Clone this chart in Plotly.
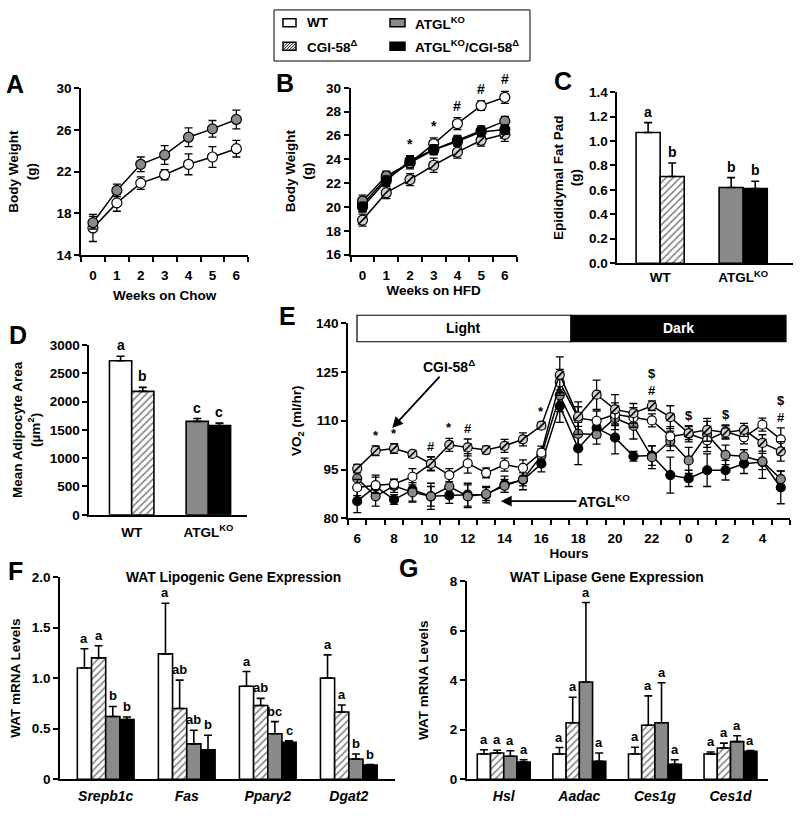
import plotly.graph_objects as go

W, H = 800, 816
FONT = "Liberation Sans, Arial, Helvetica, sans-serif"


def px(x):
    return x / W


def py(y):
    return 1 - y / H


# ---------------- data ----------------
genotypes = ["WT", "CGI-58Δ", "ATGLKO", "ATGLKO/CGI-58Δ"]

# Panel A (chow)
weeks = [0, 1, 2, 3, 4, 5, 6]
a_wt = [16.6, 19.0, 20.9, 21.7, 22.7, 23.4, 24.2]
a_wt_err = [1.3, 0.8, 0.6, 0.5, 1.0, 1.0, 0.8]
a_ko = [17.1, 20.2, 22.7, 23.6, 25.3, 26.1, 27.0]
a_ko_err = [0.6, 0.6, 0.7, 0.9, 0.9, 0.8, 0.9]

# Panel B (HFD)
b_wt = [20.2, 22.4, 23.7, 25.3, 27.0, 28.5, 29.2]
b_wt_err = [0.6, 0.5, 0.5, 0.5, 0.5, 0.4, 0.5]
b_cgi = [18.9, 21.2, 22.3, 23.5, 24.6, 25.6, 26.1]
b_cgi_err = [0.5, 0.5, 0.5, 0.6, 0.5, 0.5, 0.6]
b_ko = [20.5, 22.6, 23.7, 24.8, 25.6, 26.4, 27.2]
b_ko_err = [0.5, 0.4, 0.4, 0.4, 0.4, 0.4, 0.4]
b_dko = [20.0, 22.2, 23.9, 24.8, 25.5, 26.3, 26.5]
b_dko_err = [0.4, 0.4, 0.4, 0.4, 0.4, 0.4, 0.4]
b_sig = ["", "", "*", "*", "#", "#", "#"]

# Panel C (fat pad, g)
bar_groups = ["WT", "ATGL<sup>KO</sup>"]
c_vals = [1.07, 0.71, 0.62, 0.61]
c_err = [0.08, 0.11, 0.08, 0.06]
c_letters = ["a", "b", "b", "b"]

# Panel D (adipocyte area)
d_vals = [2720, 2180, 1650, 1575]
d_err = [80, 70, 50, 45]
d_letters = ["a", "b", "c", "c"]

# Panel E (VO2)
hours = list(range(6, 30))
e_cgi = [95.3, 100.8, 101.5, 99.8, 96.8, 102.6, 101.8, 101.0, 102.3, 104.3, 108.5, 124.1,
         111.3, 118.0, 113.5, 112.3, 114.6, 111.1, 106.2, 107.2, 106.4, 107.2, 103.2, 100.6]
e_cgi_err = [1.3, 1.5, 1.5, 0.8, 2.2, 2.0, 2.6, 1.2, 2.0, 2.0, 1.0, 5.5,
             3.0, 4.5, 4.5, 3.0, 1.5, 3.5, 2.0, 3.5, 2.0, 2.0, 2.5, 3.0]
e_wt = [89.5, 90.2, 90.6, 92.8, 96.8, 93.3, 96.9, 94.0, 96.5, 95.5, 100.2, 121.8,
        110.8, 110.0, 112.0, 111.0, 110.1, 105.2, 106.0, 104.0, 106.7, 104.9, 108.8, 104.3]
e_wt_err = [2.5, 2.5, 1.5, 2.5, 2.0, 2.0, 3.0, 1.5, 2.0, 2.5, 2.0, 4.0,
            5.0, 3.0, 3.5, 3.0, 2.0, 3.0, 2.5, 3.5, 2.0, 2.0, 2.0, 3.5]
e_ko = [92.3, 86.8, 90.0, 88.0, 86.8, 89.8, 86.8, 87.5, 90.0, 92.0, 99.3, 117.8,
        106.0, 105.8, 110.8, 108.4, 98.8, 103.8, 97.8, 105.8, 99.5, 99.1, 97.5, 92.1]
e_ko_err = [3.5, 3.0, 2.0, 3.0, 3.0, 3.5, 3.5, 2.0, 2.0, 2.0, 2.0, 5.0,
            3.5, 3.0, 3.5, 4.0, 3.5, 3.0, 4.0, 4.0, 3.0, 2.0, 2.5, 2.5]
e_dko = [85.3, 89.8, 85.8, 88.8, 86.8, 87.1, 87.3, 87.3, 90.5, 91.8, 96.8, 114.5,
         101.5, 107.8, 104.8, 99.1, 99.3, 93.3, 92.3, 94.8, 94.8, 96.8, 97.3, 89.5]
e_dko_err = [3.5, 3.5, 1.5, 3.5, 4.0, 2.5, 3.5, 2.5, 2.5, 3.0, 2.5, 5.0,
             5.0, 3.0, 5.0, 1.5, 3.0, 5.5, 2.5, 5.0, 3.0, 3.0, 5.0, 5.0]
e_sig_hours = [7, 8, 10, 11, 12, 16, 22, 24, 26, 29]
e_sig = ["*", "*", "#", "*", "#", "*", "$<br>#", "$", "$", "$<br>#"]

# Panel F (lipogenic genes)
f_genes = ["Srepb1c", "Fas", "Pparγ2", "Dgat2"]
f_vals = [
    [1.10, 1.24, 0.92, 1.00],
    [1.20, 0.70, 0.73, 0.665],
    [0.62, 0.35, 0.45, 0.20],
    [0.59, 0.29, 0.365, 0.14],
]
f_errs = [
    [0.19, 0.50, 0.145, 0.23],
    [0.12, 0.28, 0.07, 0.07],
    [0.10, 0.135, 0.12, 0.05],
    [0.025, 0.145, 0.015, 0.005],
]
f_letters = [
    ["a", "a", "a", "a"],
    ["a", "ab", "ab", "a"],
    ["b", "ab", "bc", "b"],
    ["b", "b", "c", "b"],
]

# Panel G (lipase genes)
g_genes = ["Hsl", "Aadac", "Ces1g", "Ces1d"]
g_vals = [
    [1.02, 1.02, 1.02, 1.02],
    [1.06, 2.28, 2.18, 1.26],
    [0.93, 3.93, 2.28, 1.52],
    [0.69, 0.73, 0.60, 1.13],
]
g_errs = [
    [0.17, 0.26, 0.27, 0.08],
    [0.11, 1.03, 1.19, 0.20],
    [0.22, 3.21, 1.62, 0.24],
    [0.10, 0.33, 0.19, 0.03],
]
g_letters = [["a"] * 4 for _ in range(4)]

# ---------------- styles ----------------
GRAY = "#8a8a8a"
FILLS = ["white", "white", GRAY, "black"]
PATTERNS = ["", "/", "", ""]
CIRCLE_FILLS = ["white", "#d0d0d0", GRAY, "black"]

TICK = 13.5
TITLE = 13.5

fig = go.Figure()
annotations = []
shapes = []


def fnt(size, color="black"):
    return dict(family=FONT, size=size, color=color, weight="bold")


def line_series(x, y, err, gi, xa, ya, ms):
    fig.add_trace(go.Scatter(
        x=x, y=y, mode="lines+markers", xaxis=xa, yaxis=ya, showlegend=False,
        name=genotypes[gi], cliponaxis=False,
        line=dict(color="black", width=1.5),
        marker=dict(symbol="circle", size=ms, color=CIRCLE_FILLS[gi],
                    line=dict(color="black", width=1.2)),
        error_y=dict(type="data", array=err, color="black", thickness=1.3, width=4),
    ))
    if PATTERNS[gi]:
        fig.add_trace(go.Scatter(
            x=x, y=y, mode="markers", xaxis=xa, yaxis=ya, showlegend=False,
            hoverinfo="skip", cliponaxis=False,
            marker=dict(symbol="line-ne", size=ms - 1, line=dict(color="black", width=1.6)),
        ))


def bar_genotype(cats, vals, errs, letters, gi, xa, ya, width, offset, lsize=13):
    fig.add_trace(go.Bar(
        x=cats, y=vals, width=width, offset=offset, xaxis=xa, yaxis=ya,
        showlegend=False, name=genotypes[gi],
        marker=dict(color=FILLS[gi], line=dict(color="black", width=1.6),
                    pattern=dict(shape=PATTERNS[gi], fgcolor="black", bgcolor="white",
                                 size=5, solidity=0.3)),
        error_y=dict(type="data", array=errs, arrayminus=[0] * len(errs), symmetric=False,
                     color="black", thickness=1.6, width=4),
    ))
    for c, v, e, t in zip(cats, vals, errs, letters):
        annotations.append(dict(
            x=c + offset + width / 2, y=v + e, xref=xa, yref=ya, text=t, showarrow=False,
            yanchor="bottom", yshift=1, font=fnt(lsize)))


# Panel A
line_series(weeks, a_wt, a_wt_err, 0, "x", "y", 10)
line_series(weeks, a_ko, a_ko_err, 2, "x", "y", 10)

# Panel B
line_series(weeks, b_wt, b_wt_err, 0, "x2", "y2", 10)
line_series(weeks, b_cgi, b_cgi_err, 1, "x2", "y2", 10)
line_series(weeks, b_ko, b_ko_err, 2, "x2", "y2", 10)
line_series(weeks, b_dko, b_dko_err, 3, "x2", "y2", 10)
for w, s, v, e in zip(weeks, b_sig, b_wt, b_wt_err):
    if s:
        top = max(v + e, b_ko[w] + b_ko_err[w], b_dko[w] + b_dko_err[w])
        annotations.append(dict(x=w, y=top, xref="x2", yref="y2", text=s, showarrow=False,
                                yanchor="bottom", yshift=2, font=fnt(14)))

# Panels C and D (two groups of two bars)
group_of = [0, 0, 1, 1]
CW = 0.29
for gi in range(4):
    off = -CW if gi % 2 == 0 else 0
    bar_genotype([group_of[gi]], [c_vals[gi]], [c_err[gi]], [c_letters[gi]], gi, "x3", "y3", CW, off, 14)
    bar_genotype([group_of[gi]], [d_vals[gi]], [d_err[gi]], [d_letters[gi]], gi, "x4", "y4", CW, off, 14)

# Panel E
e_series = [(e_dko, e_dko_err, 3), (e_ko, e_ko_err, 2), (e_wt, e_wt_err, 0), (e_cgi, e_cgi_err, 1)]
for vals, errs, gi in e_series:
    line_series(hours, vals, errs, gi, "x5", "y5", 9)
for h, s in zip(e_sig_hours, e_sig):
    i = hours.index(h)
    top = max(v[i] + e[i] for v, e, _ in e_series)
    annotations.append(dict(x=h, y=top, xref="x5", yref="y5", text=s, showarrow=False,
                            yanchor="bottom", yshift=1, font=fnt(13)))

# Panels F and G (four bars per gene)
FW = 0.175
cats4 = [0, 1, 2, 3]
for gi in range(4):
    off = -2 * FW + gi * FW
    bar_genotype(cats4, f_vals[gi], f_errs[gi], f_letters[gi], gi, "x6", "y6", FW, off, 13)
    bar_genotype(cats4, g_vals[gi], g_errs[gi], g_letters[gi], gi, "x7", "y7", FW, off, 13)


# ---------------- axes ----------------
def axis(domain, rng, anchor, **kw):
    d = dict(domain=domain, range=rng, anchor=anchor, showline=True, linecolor="black",
             linewidth=1.7, showgrid=False, zeroline=False, ticks="outside", ticklen=5,
             tickwidth=1.5, tickcolor="black", tickfont=fnt(TICK), fixedrange=True)
    d.update(kw)
    return d


def ytitle(t, standoff=6):
    return dict(text=t, font=fnt(TITLE), standoff=standoff)


def xtitle(t, standoff):
    return dict(text=t, font=fnt(TITLE), standoff=standoff)


half_minor = dict(ticks="outside", ticklen=5, tickwidth=1.5, tickcolor="black", tick0=-0.5, dtick=1)

layout_axes = dict(
    xaxis=axis([px(81), px(248.3)], [-0.5, 6.5], "y", tickmode="array", tickvals=weeks,
               ticks="", ticklabelstandoff=7, minor=half_minor, title=xtitle("Weeks on Chow", 8)),
    yaxis=axis([py(252.7), py(82.7)], [14, 30], "x", tickvals=[14, 18, 22, 26, 30],
               title=ytitle("Body Weight<br>(g)", 17)),
    xaxis2=axis([px(350.7), px(516.7)], [-0.5, 6.5], "y2", tickmode="array", tickvals=weeks,
                ticks="", ticklabelstandoff=7, minor=half_minor, title=xtitle("Weeks on HFD", 4)),
    yaxis2=axis([py(252.3), py(82.3)], [16, 30], "x2", tickvals=list(range(16, 31, 2)),
                title=ytitle("Body Weight<br>(g)", 10)),
    xaxis3=axis([px(617.3), px(793)], [-0.516, 1.6], "y3", tickmode="array", tickvals=[0, 1],
                ticktext=bar_groups, ticks="", ticklabelstandoff=1),
    yaxis3=axis([py(261), py(86.7)], [0, 1.4], "x3", tickvals=[0, 0.2, 0.4, 0.6, 0.8, 1.0, 1.2, 1.4],
                tickformat=".1f", title=ytitle("Epididymal Fat Pad<br>(g)", 5)),
    xaxis4=axis([px(89.3), px(246.7)], [-0.553, 1.5], "y4", tickmode="array", tickvals=[0, 1],
                ticktext=bar_groups, ticks="", ticklabelstandoff=4),
    yaxis4=axis([py(517.3), py(344.3)], [0, 3000], "x4", tickvals=[0, 500, 1000, 1500, 2000, 2500, 3000],
                title=ytitle("Mean Adipocyte Area<br>(µm<sup>2</sup>)", 6)),
    xaxis5=axis([px(348), px(790)], [5.5, 29.5], "y5", tickmode="array",
                tickvals=list(range(6, 30, 2)),
                ticktext=[str(h % 24) for h in range(6, 30, 2)],
                ticks="", ticklabelstandoff=7,
                minor=dict(ticks="outside", ticklen=5, tickwidth=1.5, tickcolor="black",
                           tick0=5.5, dtick=1),
                title=xtitle("Hours", 2)),
    yaxis5=axis([py(521), py(322)], [80, 140], "x5", tickvals=[80, 95, 110, 125, 140],
                title=ytitle("VO<sub>2</sub> (ml/hr)", 11)),
    xaxis6=axis([px(60), px(395)], [-0.564, 3.57], "y6", tickmode="array", tickvals=cats4,
                ticktext=["<i>%s</i>" % g for g in f_genes], ticks="", ticklabelstandoff=3,
                tickfont=fnt(14)),
    yaxis6=axis([py(786.7), py(580.7)], [0, 2.0], "x6", tickvals=[0, 0.5, 1.0, 1.5, 2.0],
                ticktext=["0", "0.5", "1.0", "1.5", "2.0"], title=ytitle("WAT mRNA Levels", 8)),
    xaxis7=axis([px(466.7), px(768.3)], [-0.49, 3.5], "y7", tickmode="array", tickvals=cats4,
                ticktext=["<i>%s</i>" % g for g in g_genes], ticks="", ticklabelstandoff=3,
                tickfont=fnt(14)),
    yaxis7=axis([py(786.7), py(585)], [0, 8], "x7", tickvals=[0, 2, 4, 6, 8],
                title=ytitle("WAT mRNA Levels", 18)),
)


# ---------------- decorations ----------------
def paper_text(x, y, text, size, xanchor="center", color="black"):
    annotations.append(dict(x=px(x), y=py(y), xref="paper", yref="paper", text=text,
                            showarrow=False, xanchor=xanchor, yanchor="middle",
                            font=fnt(size, color)))


for letter, (lx, ly) in zip("ABCDEFG", [(15, 78), (285, 77), (563, 75), (18, 334),
                                         (287, 315), (15, 575), (408, 571)]):
    paper_text(lx, ly, letter, 25)

paper_text(233, 581, "WAT Lipogenic Gene Expression", 13.8)
paper_text(606.7, 581, "WAT Lipase Gene Expression", 13.8)

# legend box
shapes.append(dict(type="rect", xref="paper", yref="paper", x0=px(274), x1=px(530),
                   y0=py(55), y1=py(3), line=dict(color="black", width=1), fillcolor="white"))
sw = [(283, 12, 296, 20, 0), (283, 36, 296, 44, 1), (390, 12, 405, 20, 2), (390, 36, 405, 44, 3)]
for x0, y0, x1, y1, gi in sw:
    shapes.append(dict(type="rect", xref="paper", yref="paper", x0=px(x0), x1=px(x1),
                       y0=py(y1), y1=py(y0), line=dict(color="black", width=1.5),
                       fillcolor=FILLS[gi]))
    if PATTERNS[gi]:
        hgt = y1 - y0
        for d in range(-hgt + 2, x1 - x0, 3):
            sx, sy = x0 + d, y1
            ex, ey = x0 + d + hgt, y0
            if sx < x0:
                sy -= (x0 - sx)
                sx = x0
            if ex > x1:
                ey += (ex - x1)
                ex = x1
            shapes.append(dict(type="line", xref="paper", yref="paper", x0=px(sx), y0=py(sy),
                               x1=px(ex), y1=py(ey), line=dict(color="black", width=1)))
paper_text(305, 16, "WT", 13.5, "left")
paper_text(305, 40, "CGI-58<sup>Δ</sup>", 13.5, "left")
paper_text(413, 16, "ATGL<sup>KO</sup>", 13.5, "left")
paper_text(413, 40, "ATGL<sup>KO</sup>/CGI-58<sup>Δ</sup>", 13.5, "left")

# Light / Dark bar in panel E
shapes.append(dict(type="rect", xref="paper", yref="paper", x0=px(357), x1=px(571),
                   y0=py(341), y1=py(314), line=dict(color="black", width=1.2), fillcolor="white"))
shapes.append(dict(type="rect", xref="paper", yref="paper", x0=px(571), x1=px(786),
                   y0=py(341), y1=py(314), line=dict(color="black", width=1.2), fillcolor="black"))
paper_text(464, 327.5, "Light", 14)
paper_text(678.5, 327.5, "Dark", 14, color="white")

# arrows in panel E
annotations.append(dict(x=7.9, y=107.8, xref="x5", yref="y5", ax=11.0, ay=126.8,
                        axref="x5", ayref="y5", text="CGI-58<sup>Δ</sup>", showarrow=True,
                        arrowhead=2, arrowsize=1.2, arrowwidth=1.8, arrowcolor="black",
                        standoff=0, font=fnt(14)))
annotations.append(dict(x=13.8, y=85.3, xref="x5", yref="y5", ax=19.4, ay=85.3,
                        axref="x5", ayref="y5", text="ATGL<sup>KO</sup>", showarrow=True,
                        arrowhead=2, arrowsize=1.2, arrowwidth=1.8, arrowcolor="black",
                        standoff=0, font=fnt(14)))

fig.update_layout(
    width=W, height=H, margin=dict(l=0, r=0, t=0, b=0),
    paper_bgcolor="white", plot_bgcolor="white",
    font=dict(family=FONT, color="black", size=12, weight="bold"),
    barmode="overlay", showlegend=False,
    annotations=annotations, shapes=shapes,
    **layout_axes,
)

fig.write_html("out.html", config={"displayModeBar": False},
               post_script="document.body.style.margin='0';document.body.style.overflow='hidden';")
